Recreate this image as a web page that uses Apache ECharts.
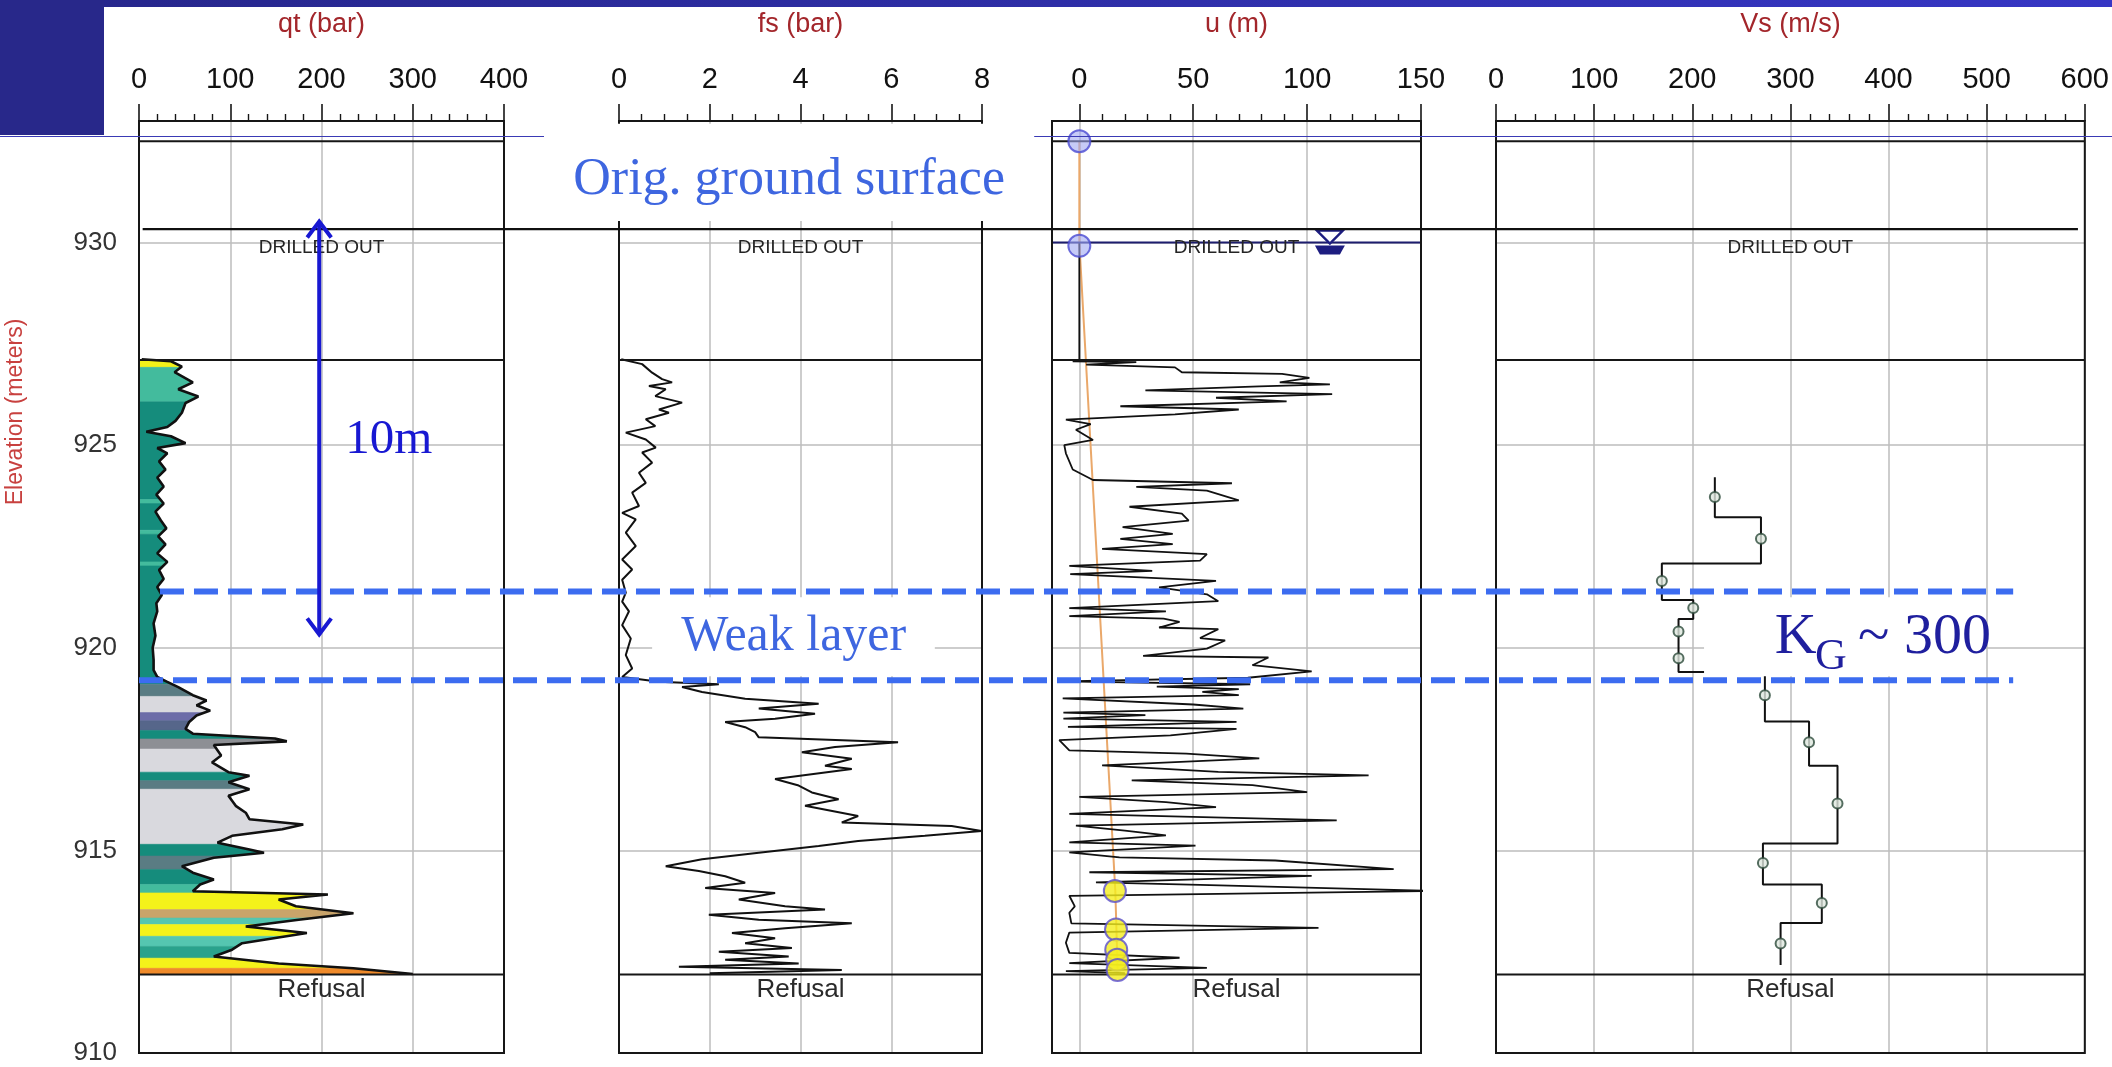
<!DOCTYPE html>
<html>
<head>
<meta charset="utf-8">
<title>CPT log – elevation profile</title>
<script src="https://cdn.jsdelivr.net/npm/echarts@6/dist/echarts.min.js"></script>
<style>
  html, body { margin: 0; padding: 0; background: #ffffff; }
  #log { width: 2112px; height: 1067px; }
</style>
</head>
<body>
<div id="log"></div>
<script>
// ---------------------------------------------------------------------------
// Data (elevation in metres; each profile point is [value, elevation])
// ---------------------------------------------------------------------------
const PANEL_TITLES = ['qt (bar)', 'fs (bar)', 'u (m)', 'Vs (m/s)'];
const ELEV_TICKS = [910, 915, 920, 925, 930];
const U_TICKS = [0, 50, 100, 150];
const U_MINOR_TICKS = [10, 20, 30, 40, 60, 70, 80, 90, 110, 120, 130, 140];

// Cone resistance qt (bar)
const QT_PROFILE = [
  [3, 927.12], [35, 927.07], [47, 926.94], [39, 926.8], [59, 926.55], [43, 926.38], [65, 926.2],
  [51, 926.04], [47, 925.8], [40, 925.6], [31, 925.45], [8, 925.33], [35, 925.22], [51, 925.05],
  [20, 924.93], [31, 924.8], [22, 924.6], [29, 924.4], [20, 924.2], [27, 923.98], [19, 923.78],
  [27, 923.56], [18, 923.36], [24, 923.14], [30, 922.95], [21, 922.75], [29, 922.55], [20, 922.33],
  [31, 922.12], [22, 921.92], [27, 921.7], [20, 921.5], [25, 921.3], [19, 921.1], [20, 920.9],
  [16, 920.6], [18, 920.3], [15, 920.0], [16, 919.7], [16, 919.45], [20, 919.28], [31, 919.16],
  [43, 919.03], [59, 918.83], [74, 918.7], [63, 918.58], [78, 918.45], [63, 918.33], [55, 918.17],
  [51, 918.0], [59, 917.88], [149, 917.76], [162, 917.69], [82, 917.6], [90, 917.34], [80, 917.17],
  [98, 916.93], [121, 916.84], [98, 916.68], [121, 916.51], [98, 916.35], [106, 916.1], [117, 915.93],
  [121, 915.77], [180, 915.64], [157, 915.52], [102, 915.36], [86, 915.19], [121, 915.02], [137, 914.94],
  [82, 914.82], [47, 914.61], [59, 914.45], [82, 914.28], [67, 914.16], [59, 913.99], [207, 913.91],
  [153, 913.79], [172, 913.62], [235, 913.45], [175, 913.29], [117, 913.12], [184, 912.96], [113, 912.71],
  [102, 912.55], [82, 912.38], [153, 912.21], [235, 912.09], [300, 911.95]
];

// Soil behaviour type layers under the qt trace: [top, bottom, type]
const QT_LAYERS = [
  [927.1, 926.92, 'sand'], [926.92, 926.07, 'siltMix'], [926.07, 923.66, 'clay'],
  [923.66, 923.56, 'siltMix'], [923.56, 922.9, 'clay'], [922.9, 922.8, 'siltMix'],
  [922.8, 922.12, 'clay'], [922.12, 922.02, 'siltMix'], [922.02, 919.1, 'clay'],
  [919.1, 918.8, 'slate'], [918.8, 918.4, 'sensitive'], [918.4, 918.2, 'organic'],
  [918.2, 917.96, 'organicDark'], [917.96, 917.75, 'clay'], [917.75, 917.5, 'stiff'],
  [917.5, 916.93, 'sensitive'], [916.93, 916.72, 'clay'], [916.72, 916.51, 'slate'],
  [916.51, 915.15, 'sensitive'], [915.15, 914.86, 'clay'], [914.86, 914.53, 'slate'],
  [914.53, 914.16, 'clay'], [914.16, 913.95, 'siltMix'], [913.95, 913.54, 'sand'],
  [913.54, 913.33, 'gravelly'], [913.33, 913.17, 'sandMix'], [913.17, 912.88, 'sand'],
  [912.88, 912.63, 'sandMix'], [912.63, 912.34, 'siltMixDark'], [912.34, 912.09, 'sand'],
  [912.09, 911.94, 'dense']
];

// Sleeve friction fs (bar)
const FS_PROFILE = [
  [0.05, 927.12], [0.51, 927.0], [0.73, 926.79], [0.95, 926.63], [1.17, 926.55], [0.66, 926.46],
  [1.03, 926.38], [0.8, 926.21], [1.39, 926.05], [0.88, 925.88], [1.1, 925.8], [0.59, 925.64],
  [0.8, 925.47], [0.15, 925.31], [0.59, 925.14], [0.81, 924.94], [0.51, 924.82], [0.73, 924.57],
  [0.44, 924.32], [0.59, 924.07], [0.29, 923.83], [0.44, 923.5], [0.07, 923.33], [0.37, 923.17],
  [0.15, 922.84], [0.37, 922.51], [0.07, 922.18], [0.29, 921.93], [0.07, 921.68], [0.15, 921.36],
  [0.07, 921.14], [0.22, 920.9], [0.07, 920.56], [0.26, 920.23], [0.15, 919.82], [0.29, 919.49],
  [0.07, 919.28], [0.88, 919.16], [2.2, 919.1], [1.39, 919.03], [1.83, 918.91], [2.78, 918.74],
  [4.4, 918.62], [3.08, 918.5], [4.32, 918.37], [3.44, 918.25], [2.34, 918.17], [2.78, 918.04],
  [3.0, 917.92], [3.08, 917.79], [6.15, 917.67], [4.76, 917.55], [4.03, 917.42], [5.13, 917.26],
  [4.54, 917.09], [5.13, 917.01], [3.44, 916.76], [3.96, 916.6], [4.25, 916.43], [4.84, 916.26],
  [4.1, 916.1], [5.27, 915.85], [4.91, 915.69], [7.33, 915.6], [7.99, 915.48], [6.74, 915.36],
  [5.27, 915.23], [4.4, 915.11], [3.08, 914.94], [1.83, 914.78], [1.03, 914.61], [1.76, 914.49],
  [2.34, 914.36], [2.78, 914.2], [1.9, 914.07], [3.44, 913.95], [2.64, 913.79], [3.66, 913.62],
  [4.54, 913.54], [1.98, 913.41], [3.08, 913.29], [5.13, 913.2], [3.66, 913.08], [2.49, 912.96],
  [3.44, 912.83], [2.78, 912.71], [3.81, 912.59], [2.2, 912.5], [3.74, 912.38], [2.34, 912.3],
  [3.96, 912.21], [1.32, 912.13], [4.91, 912.05], [2.0, 911.97]
];

// Pore pressure u (m of head)
const U_PROFILE = [
  [0, 930], [0, 927.1], [-2.9, 927.07], [25, 927.05], [3, 926.99], [42, 926.92], [45, 926.8],
  [89, 926.76], [101, 926.66], [88, 926.55], [110, 926.5], [79, 926.45], [29, 926.35], [111, 926.26],
  [60, 926.17], [91, 926.08], [18, 925.96], [70, 925.88], [42, 925.76], [-5.9, 925.63], [5, 925.52],
  [-1.5, 925.38], [6, 925.13], [-6.6, 925.0], [-5.9, 924.8], [-2.9, 924.4], [6, 924.14], [67, 924.06],
  [25, 923.97], [56, 923.88], [70, 923.64], [22, 923.48], [45, 923.31], [48, 923.14], [19, 922.98],
  [41, 922.81], [18, 922.69], [41, 922.56], [10, 922.44], [56, 922.31], [53, 922.15], [-4.4, 922.02],
  [32, 921.9], [-4, 921.82], [60, 921.65], [35, 921.49], [56, 921.32], [61, 921.15], [-4.4, 920.98],
  [38, 920.9], [-4.4, 920.78], [37, 920.72], [44, 920.64], [35, 920.5], [61, 920.46], [53, 920.24],
  [64, 920.18], [56, 919.98], [28, 919.8], [83, 919.76], [76, 919.57], [102, 919.42], [74, 919.26],
  [-7.3, 919.17], [75, 919.1], [34, 919.04], [70, 918.98], [54, 918.91], [70, 918.83], [-7.3, 918.75],
  [50, 918.6], [72, 918.5], [-7, 918.4], [29, 918.34], [-7, 918.25], [69, 918.17], [-5, 918.05],
  [69, 918.0], [40, 917.84], [-8.8, 917.72], [-4.4, 917.47], [47, 917.39], [79, 917.27], [10, 917.1],
  [61, 916.94], [127, 916.85], [23, 916.73], [76, 916.61], [100, 916.44], [0, 916.32], [38, 916.19],
  [60, 916.07], [-4.4, 915.9], [113, 915.74], [-1.5, 915.61], [20, 915.49], [38, 915.37], [-4.4, 915.2],
  [51, 915.12], [-4.4, 914.95], [17.6, 914.83], [86, 914.75], [138, 914.54], [4.4, 914.46], [102, 914.37],
  [7.3, 914.21], [53, 914.15], [155, 914.0], [-4.4, 913.88], [-2, 913.62], [-4.4, 913.46], [-3.5, 913.2],
  [105, 913.09], [-4.4, 912.97], [-5.9, 912.72], [-4.4, 912.47], [44, 912.35], [-4.4, 912.22],
  [56, 912.1], [-5.9, 912.02], [20, 911.97]
];
const U_HYDROSTATIC = [[0, 932.5], [0, 930], [15.8, 914.0], [16.8, 912.05]];
const U_SURFACE_POINTS = [[0, 932.5], [0, 929.92]];
const U_DISSIPATION = [[15.6, 914.0], [16.1, 913.05], [16.2, 912.55], [16.6, 912.3], [16.8, 912.05]];
const WATER_TABLE = [110, 930];

// Shear wave velocity: layer boundaries, layer values and test depths
const VS_BOUNDS = [924.21, 923.22, 922.08, 921.18, 920.71, 919.4, 918.18, 917.09, 915.17, 914.16, 913.21, 912.17];
const VS_VALUES = [223, 270, 169, 201, 186, 274, 319, 348, 272, 332, 290];
const VS_POINTS = [
  [223, 923.72], [270, 922.69], [169, 921.65], [201, 920.98], [186, 920.4], [186, 919.74],
  [274, 918.83], [319, 917.67], [348, 916.16], [272, 914.69], [332, 913.7], [290, 912.7]
];

// Reference elevations in the log
const GROUND_SURFACE = 930.33;
const FRAME_TOP = 932.5;
const DRILLED_BASE = 927.1;
const REFUSAL = 911.94;
const WEAK_LAYER = [921.39, 919.2];

// ---------------------------------------------------------------------------
// Styling and layout
// ---------------------------------------------------------------------------
const SANS = "'Liberation Sans', Arial, sans-serif";
const SERIF = "'Liberation Serif', 'Times New Roman', serif";

const SBT_COLORS = {
  sand: '#f4f21a', siltMix: '#43bb9d', siltMixDark: '#2aa28c', sandMix: '#55c6b0',
  clay: '#158c7c', slate: '#5a7c83', sensitive: '#d9d9de', organic: '#6c6ca8',
  organicDark: '#56668a', stiff: '#8d8f94', gravelly: '#c9a46a', dense: '#ef8a2a'
};

const ELEV_MIN = 910, ELEV_MAX = 933;
const PLOT_TOP = 121, PLOT_HEIGHT = 932;
const PANELS = [
  { left: 139, width: 365, min: 0, max: 400, interval: 100, minor: 5 },
  { left: 619, width: 363, min: 0, max: 8, interval: 2, minor: 4 },
  { left: 1052, width: 369, min: -12, max: 150, custom: U_TICKS },
  { left: 1496, width: 604, min: 0, max: 600, interval: 100, minor: 5 }
];
const GRID_GREY = '#bdbdbd';
const INK = '#161616';

// ---------------------------------------------------------------------------
// Helpers
// ---------------------------------------------------------------------------
// Part of a depth profile between two elevations (profile ordered top → bottom)
function clipProfile(profile, top, bottom) {
  const pts = [];
  for (let k = 0; k < profile.length - 1; k++) {
    const [x0, e0] = profile[k];
    const [x1, e1] = profile[k + 1];
    if (e0 < bottom) break;
    if (e1 > top) continue;
    const at = e => x0 + (x1 - x0) * (e - e0) / (e1 - e0);
    if (!pts.length) pts.push(e0 >= top ? [at(top), top] : [x0, e0]);
    if (e1 <= bottom) { pts.push([at(bottom), bottom]); break; }
    pts.push([x1, e1]);
  }
  return pts;
}

function qtLayerItem(params, api) {
  const [top, bottom, type] = QT_LAYERS[params.dataIndex];
  const pts = clipProfile(QT_PROFILE, top, bottom);
  if (!pts.length) return null;
  const poly = pts.concat([[0, bottom], [0, top]]).map(p => api.coord(p));
  const c = SBT_COLORS[type];
  return { type: 'polygon', shape: { points: poly }, style: { fill: c, stroke: c, lineWidth: 0.6 } };
}

// Frame, horizontal reference lines and the in-panel captions of one panel
function panelDecor(i) {
  const p = PANELS[i];
  return function (params, api) {
    const c = (x, e) => api.coord([x, e]);
    const kids = [];
    const hline = (e, stroke, width) => {
      const a = c(p.min, e), b = c(p.max, e);
      kids.push({ type: 'line', shape: { x1: a[0], y1: a[1], x2: b[0], y2: b[1] },
        style: { stroke, lineWidth: width } });
    };
    if (i !== 1) hline(FRAME_TOP, INK, 2);
    hline(DRILLED_BASE, INK, 2);
    hline(REFUSAL, INK, 2);
    if (i === 2) hline(WATER_TABLE[1], '#1d1d6e', 2);
    const tl = c(p.min, ELEV_MAX), br = c(p.max, ELEV_MIN);
    kids.push({ type: 'rect', shape: { x: tl[0], y: tl[1], width: br[0] - tl[0], height: br[1] - tl[1] },
      style: { fill: 'none', stroke: INK, lineWidth: 2 } });
    const mid = (p.min + p.max) / 2;
    const d = c(mid, 929.87);
    kids.push({ type: 'text', x: d[0], y: d[1], style: { text: 'DRILLED OUT', fontSize: 19, fontFamily: SANS,
      fill: '#242424', align: 'center', verticalAlign: 'middle' } });
    const r = c(mid, 911.55);
    kids.push({ type: 'text', x: r[0], y: r[1], style: { text: 'Refusal', fontSize: 26, fontFamily: SANS,
      fill: '#2a2a2a', align: 'center', verticalAlign: 'middle' } });
    if (i === 2) {
      const w = c(WATER_TABLE[0], WATER_TABLE[1]);
      kids.push({ type: 'polygon', shape: { points: [[w[0] - 13, w[1] - 12], [w[0] + 13, w[1] - 12], [w[0], w[1] + 1]] },
        style: { fill: '#ffffff', stroke: '#1d1d80', lineWidth: 2.5 } });
      kids.push({ type: 'polygon', shape: { points: [[w[0] - 15, w[1] + 3], [w[0] + 15, w[1] + 3], [w[0] + 10, w[1] + 12], [w[0] - 10, w[1] + 12]] },
        style: { fill: '#1d1d80' } });
    }
    return { type: 'group', children: kids };
  };
}

// ---------------------------------------------------------------------------
// Axes
// ---------------------------------------------------------------------------
const xAxes = PANELS.map((p, i) => ({
  gridIndex: i, type: 'value', position: 'top', min: p.min, max: p.max,
  interval: p.interval,
  name: PANEL_TITLES[i], nameLocation: 'middle', nameGap: 83,
  nameTextStyle: { color: '#a3262b', fontSize: 27, fontFamily: SANS },
  axisLine: { show: true, onZero: false, lineStyle: { color: INK, width: 1.6 } },
  axisTick: Object.assign({ show: true, inside: false, length: 17, lineStyle: { color: INK, width: 1.6 } },
    p.custom ? { customValues: p.custom } : {}),
  minorTick: { show: !p.custom, splitNumber: p.minor || 5, length: 7, lineStyle: { color: INK, width: 1.4 } },
  axisLabel: Object.assign({ show: true, margin: 27, fontSize: 29, color: '#111', fontFamily: SANS },
    p.custom ? { customValues: p.custom } : {}),
  splitLine: { show: true, lineStyle: { color: GRID_GREY, width: 1.5 } }
}));
// minor ticks of the pore-pressure axis
xAxes.push({
  gridIndex: 2, type: 'value', position: 'top', min: PANELS[2].min, max: PANELS[2].max,
  axisLine: { show: false }, axisLabel: { show: false }, splitLine: { show: false },
  axisTick: { show: true, inside: false, length: 7, customValues: U_MINOR_TICKS, lineStyle: { color: INK, width: 1.4 } }
});

const yAxes = PANELS.map((p, i) => ({
  gridIndex: i, type: 'value', min: ELEV_MIN, max: ELEV_MAX, interval: 5,
  axisLine: { show: false }, axisTick: { show: false },
  axisLabel: { show: i === 0, fontSize: 26, color: '#333', margin: 22, fontFamily: SANS,
    customValues: ELEV_TICKS },
  splitLine: { show: true, lineStyle: { color: GRID_GREY, width: 1.5 } }
}));

// ---------------------------------------------------------------------------
// Series
// ---------------------------------------------------------------------------
const vsStep = [];
VS_VALUES.forEach((v, k) => { vsStep.push([v, VS_BOUNDS[k]], [v, VS_BOUNDS[k + 1]]); });

const series = [
  { type: 'custom', name: 'SBT', xAxisIndex: 0, yAxisIndex: 0, z: 2, silent: true,
    data: QT_LAYERS.map((_, k) => [k]), renderItem: qtLayerItem },
  { type: 'line', name: 'qt', xAxisIndex: 0, yAxisIndex: 0, z: 4, data: QT_PROFILE, symbol: 'none',
    lineStyle: { color: '#111', width: 2.6 } },
  { type: 'line', name: 'fs', xAxisIndex: 1, yAxisIndex: 1, z: 4, data: FS_PROFILE, symbol: 'none',
    lineStyle: { color: '#111', width: 2 } },
  { type: 'line', name: 'hydrostatic', xAxisIndex: 2, yAxisIndex: 2, z: 3, data: U_HYDROSTATIC, symbol: 'none',
    lineStyle: { color: '#eaa86a', width: 2 } },
  { type: 'line', name: 'u', xAxisIndex: 2, yAxisIndex: 2, z: 4, data: U_PROFILE, symbol: 'none',
    lineStyle: { color: '#111', width: 1.8 } },
  { type: 'scatter', name: 'surface', xAxisIndex: 2, yAxisIndex: 2, z: 6, data: U_SURFACE_POINTS,
    symbolSize: 22, itemStyle: { color: 'rgba(160,168,242,0.75)', borderColor: '#4b4bd2', borderWidth: 2 } },
  { type: 'scatter', name: 'dissipation', xAxisIndex: 2, yAxisIndex: 2, z: 6, data: U_DISSIPATION,
    symbolSize: 22, itemStyle: { color: '#f4ee1e', borderColor: '#5a4ed0', borderWidth: 2 } },
  { type: 'line', name: 'Vs', xAxisIndex: 3, yAxisIndex: 3, z: 4, data: vsStep, symbol: 'none',
    lineStyle: { color: '#111', width: 2 } },
  { type: 'scatter', name: 'Vs tests', xAxisIndex: 3, yAxisIndex: 3, z: 6, data: VS_POINTS,
    symbolSize: 10, itemStyle: { color: '#dfe7df', borderColor: '#2c4a3a', borderWidth: 2 } }
];
PANELS.forEach((p, i) => {
  series.push({ type: 'custom', name: 'frame' + i, xAxisIndex: i, yAxisIndex: i, z: 5, silent: true,
    data: [[p.min]], renderItem: panelDecor(i) });
});

const chart = echarts.init(document.getElementById('log'), null, { renderer: 'canvas', width: 2112, height: 1067 });
chart.setOption({
  animation: false,
  backgroundColor: '#ffffff',
  grid: PANELS.map(p => ({ left: p.left, top: PLOT_TOP, width: p.width, height: PLOT_HEIGHT })),
  xAxis: xAxes,
  yAxis: yAxes,
  series
});

// ---------------------------------------------------------------------------
// Annotations placed in panel coordinates
// ---------------------------------------------------------------------------
function annotations() {
  const P = (panel, x, e) => chart.convertToPixel({ gridIndex: panel }, [x, e]);
  const g = [];
  const Z = 100;
  // slide header band
  g.push({ type: 'rect', z: Z, silent: true, shape: { x: 0, y: 0, width: 2112, height: 7 },
    style: { fill: new echarts.graphic.LinearGradient(0, 0, 1, 0, [
      { offset: 0, color: '#26268a' }, { offset: 1, color: '#3636c4' }]) } });
  g.push({ type: 'rect', z: Z, silent: true, shape: { x: 0, y: 0, width: 104, height: 135 }, style: { fill: '#28288a' } });
  g.push({ type: 'line', z: Z, silent: true, shape: { x1: 0, y1: 136.5, x2: 544, y2: 136.5 }, style: { stroke: '#3a3ab5', lineWidth: 1.2 } });
  g.push({ type: 'line', z: Z, silent: true, shape: { x1: 1034, y1: 136.5, x2: 2112, y2: 136.5 }, style: { stroke: '#3a3ab5', lineWidth: 1.2 } });

  // elevation axis title
  g.push({ type: 'text', z: Z, silent: true, x: 16, y: 412, rotation: Math.PI / 2,
    style: { text: 'Elevation (meters)', fontSize: 23, fontFamily: SANS, fill: '#c8413f', align: 'center', verticalAlign: 'middle' } });

  // original ground surface line across all panels
  const g0 = P(0, 4, GROUND_SURFACE), g1 = P(3, 593, GROUND_SURFACE);
  g.push({ type: 'line', z: Z, silent: true, shape: { x1: g0[0], y1: g0[1], x2: g1[0], y2: g1[1] }, style: { stroke: '#101010', lineWidth: 2.2 } });

  // caption box over the friction panel head
  const b0 = P(1, -1.65, 932.93), b1 = P(1, 9.15, 930.53);
  g.push({ type: 'rect', z: Z + 1, silent: true, shape: { x: b0[0], y: b0[1], width: b1[0] - b0[0], height: b1[1] - b0[1] }, style: { fill: '#ffffff' } });
  const t0 = P(1, 3.75, 931.53);
  g.push({ type: 'text', z: Z + 2, silent: true, x: t0[0], y: t0[1],
    style: { text: 'Orig. ground surface', fontSize: 52, fontFamily: SERIF, fill: '#3e66e0', align: 'center', verticalAlign: 'middle' } });

  // weak layer caption
  const w0 = P(1, 0.73, 921.25), w1 = P(1, 6.96, 919.3);
  g.push({ type: 'rect', z: Z + 1, silent: true, shape: { x: w0[0], y: w0[1], width: w1[0] - w0[0], height: w1[1] - w0[1] }, style: { fill: '#ffffff' } });
  const wt = P(1, 3.85, 920.26);
  g.push({ type: 'text', z: Z + 2, silent: true, x: wt[0], y: wt[1],
    style: { text: 'Weak layer', fontSize: 50, fontFamily: SERIF, fill: '#3e66e0', align: 'center', verticalAlign: 'middle' } });

  // K_G caption
  const k0 = P(3, 212, 921.25), k1 = P(3, 495, 919.3);
  g.push({ type: 'rect', z: Z + 1, silent: true, shape: { x: k0[0], y: k0[1], width: k1[0] - k0[0], height: k1[1] - k0[1] }, style: { fill: '#ffffff' } });
  const kK = P(3, 284, 920.24), kG = P(3, 325, 919.76), kR = P(3, 369, 920.24);
  g.push({ type: 'text', z: Z + 2, silent: true, x: kK[0], y: kK[1],
    style: { text: 'K', fontSize: 58, fontFamily: SERIF, fill: '#1f1f9e', align: 'left', verticalAlign: 'middle' } });
  g.push({ type: 'text', z: Z + 2, silent: true, x: kG[0], y: kG[1],
    style: { text: 'G', fontSize: 44, fontFamily: SERIF, fill: '#1f1f9e', align: 'left', verticalAlign: 'middle' } });
  g.push({ type: 'text', z: Z + 2, silent: true, x: kR[0], y: kR[1],
    style: { text: '~ 300', fontSize: 58, fontFamily: SERIF, fill: '#1f1f9e', align: 'left', verticalAlign: 'middle' } });

  // weak layer bounds
  const dashStyle = { stroke: '#3c6cf0', lineWidth: 6, lineDash: [24, 10] };
  const dA = P(0, 23, WEAK_LAYER[0]), dB = P(3, 527, WEAK_LAYER[0]);
  const dC = P(0, 0, WEAK_LAYER[1]), dD = P(3, 527, WEAK_LAYER[1]);
  g.push({ type: 'line', z: Z + 3, silent: true, shape: { x1: dA[0], y1: dA[1], x2: dB[0], y2: dB[1] }, style: dashStyle });
  g.push({ type: 'line', z: Z + 3, silent: true, shape: { x1: dC[0], y1: dC[1], x2: dD[0], y2: dD[1] }, style: dashStyle });

  // 10 m dimension arrow
  const aT = P(0, 197.5, 930.52), aB = P(0, 197.5, 920.33);
  const blue = '#1818d2';
  g.push({ type: 'line', z: Z + 4, silent: true, shape: { x1: aT[0], y1: aT[1], x2: aB[0], y2: aB[1] }, style: { stroke: blue, lineWidth: 4 } });
  g.push({ type: 'polyline', z: Z + 4, silent: true, shape: { points: [[aT[0] - 12, aT[1] + 16], [aT[0], aT[1]], [aT[0] + 12, aT[1] + 16]] }, style: { stroke: blue, lineWidth: 4, fill: 'none' } });
  g.push({ type: 'polyline', z: Z + 4, silent: true, shape: { points: [[aB[0] - 12, aB[1] - 16], [aB[0], aB[1]], [aB[0] + 12, aB[1] - 16]] }, style: { stroke: blue, lineWidth: 4, fill: 'none' } });
  const mt = P(0, 226, 925.12);
  g.push({ type: 'text', z: Z + 4, silent: true, x: mt[0], y: mt[1],
    style: { text: '10m', fontSize: 49, fontFamily: SERIF, fill: blue, align: 'left', verticalAlign: 'middle' } });
  return g;
}
chart.setOption({ graphic: annotations() });
</script>
</body>
</html>
